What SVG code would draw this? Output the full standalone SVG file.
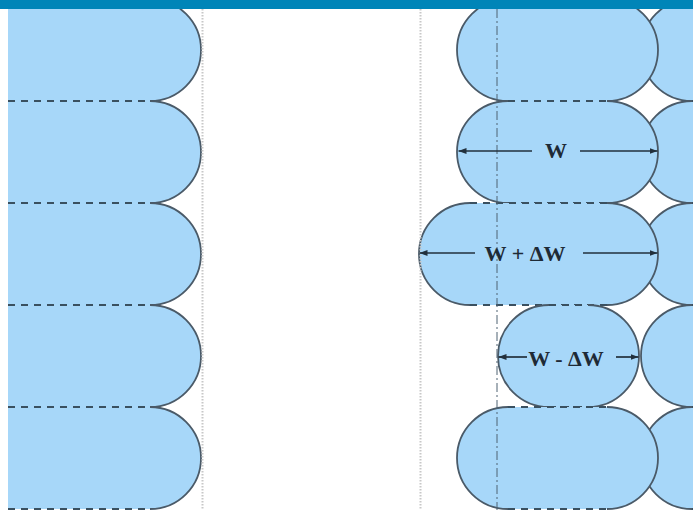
<svg xmlns="http://www.w3.org/2000/svg" width="693" height="510" viewBox="0 0 693 510">
<defs>
<style>
.fill{fill:#A7D7F9;stroke:none}
.cap{fill:none;stroke:#4A5A68;stroke-width:1.8}
.edge{fill:none;stroke:#3A5060;stroke-width:1.8;stroke-dasharray:7 6}
.guide{fill:none;stroke:#C8C8C8;stroke-width:2;stroke-dasharray:1.5 1.5}
.axis{fill:none;stroke:#4E6272;stroke-width:1;stroke-dasharray:9 3 2 3}
.dim{fill:none;stroke:#22303C;stroke-width:1.7;marker-end:url(#ah)}
.lbl{font-family:"Liberation Serif","Times New Roman",serif;font-size:22px;font-weight:bold;fill:#1E2A36;text-anchor:middle}
</style>
<marker id="ah" viewBox="0 0 8 6" refX="8" refY="3" markerWidth="8" markerHeight="6" markerUnits="userSpaceOnUse" orient="auto">
<path d="M0,0 L8,3 L0,6 Z" fill="#22303C"/>
</marker>
</defs>
<rect width="693" height="510" fill="#FFFFFF"/>

<!-- third column (partially visible, behind) -->
<g id="col3">
<g id="c3r1"><path class="fill" d="M692,-1 H900 V101 H692 A51,51 0 0 1 692,-1 Z"/><path class="cap" d="M692,101 A51,51 0 0 1 692,-1"/><path class="edge" d="M692,-1 H900 M692,101 H900"/></g>
<g id="c3r2"><path class="fill" d="M692,101 H900 V203 H692 A51,51 0 0 1 692,101 Z"/><path class="cap" d="M692,203 A51,51 0 0 1 692,101"/><path class="edge" d="M692,101 H900 M692,203 H900"/></g>
<g id="c3r3"><path class="fill" d="M692,203 H900 V305 H692 A51,51 0 0 1 692,203 Z"/><path class="cap" d="M692,305 A51,51 0 0 1 692,203"/><path class="edge" d="M692,203 H900 M692,305 H900"/></g>
<g id="c3r4"><path class="fill" d="M692,305 H900 V407 H692 A51,51 0 0 1 692,305 Z"/><path class="cap" d="M692,407 A51,51 0 0 1 692,305"/><path class="edge" d="M692,305 H900 M692,407 H900"/></g>
<g id="c3r5"><path class="fill" d="M692,407 H900 V509 H692 A51,51 0 0 1 692,407 Z"/><path class="cap" d="M692,509 A51,51 0 0 1 692,407"/><path class="edge" d="M692,407 H900 M692,509 H900"/></g>
</g>

<!-- right column -->
<g id="col2">
<g id="r1"><path class="fill" d="M508,-1 H607 A51,51 0 0 1 607,101 H508 A51,51 0 0 1 508,-1 Z"/><path class="cap" d="M607,-1 A51,51 0 0 1 607,101 M508,101 A51,51 0 0 1 508,-1"/><path class="edge" d="M508,-1 H607 M508,101 H607"/></g>
<g id="r2"><path class="fill" d="M508,101 H607 A51,51 0 0 1 607,203 H508 A51,51 0 0 1 508,101 Z"/><path class="cap" d="M607,101 A51,51 0 0 1 607,203 M508,203 A51,51 0 0 1 508,101"/><path class="edge" d="M508,101 H607 M508,203 H607"/></g>
<g id="r3"><path class="fill" d="M470,203 H607 A51,51 0 0 1 607,305 H470 A51,51 0 0 1 470,203 Z"/><path class="cap" d="M607,203 A51,51 0 0 1 607,305 M470,305 A51,51 0 0 1 470,203"/><path class="edge" d="M470,203 H607 M470,305 H607"/></g>
<g id="r4"><path class="fill" d="M549,305 H588 A51,51 0 0 1 588,407 H549 A51,51 0 0 1 549,305 Z"/><path class="cap" d="M588,305 A51,51 0 0 1 588,407 M549,407 A51,51 0 0 1 549,305"/><path class="edge" d="M549,305 H588 M549,407 H588"/></g>
<g id="r5"><path class="fill" d="M508,407 H607 A51,51 0 0 1 607,509 H508 A51,51 0 0 1 508,407 Z"/><path class="cap" d="M607,407 A51,51 0 0 1 607,509 M508,509 A51,51 0 0 1 508,407"/><path class="edge" d="M508,407 H607 M508,509 H607"/></g>
</g>

<!-- left column -->
<g id="col1">
<g id="l1"><path class="fill" d="M8,-1 H150 A51,51 0 0 1 150,101 H8 Z"/><path class="cap" d="M150,-1 A51,51 0 0 1 150,101"/><path class="edge" d="M8,-1 H150 M8,101 H150"/></g>
<g id="l2"><path class="fill" d="M8,101 H150 A51,51 0 0 1 150,203 H8 Z"/><path class="cap" d="M150,101 A51,51 0 0 1 150,203"/><path class="edge" d="M8,101 H150 M8,203 H150"/></g>
<g id="l3"><path class="fill" d="M8,203 H150 A51,51 0 0 1 150,305 H8 Z"/><path class="cap" d="M150,203 A51,51 0 0 1 150,305"/><path class="edge" d="M8,203 H150 M8,305 H150"/></g>
<g id="l4"><path class="fill" d="M8,305 H150 A51,51 0 0 1 150,407 H8 Z"/><path class="cap" d="M150,305 A51,51 0 0 1 150,407"/><path class="edge" d="M8,305 H150 M8,407 H150"/></g>
<g id="l5"><path class="fill" d="M8,407 H150 A51,51 0 0 1 150,509 H8 Z"/><path class="cap" d="M150,407 A51,51 0 0 1 150,509"/><path class="edge" d="M8,407 H150 M8,509 H150"/></g>
</g>

<!-- guide lines -->
<g id="guides">
<path class="guide" d="M202.5,9 V510"/>
<path class="guide" d="M420.5,9 V510"/>
<path class="axis" d="M497,9 V510"/>
</g>

<!-- dimension connectors -->
<g id="connectors">
<path class="dim" d="M532,151 H458.5"/>
<path class="dim" d="M580,151 H657.5"/>
<path class="dim" d="M475,253 H419.5"/>
<path class="dim" d="M583,253 H657.5"/>
<path class="dim" d="M527,357 H498.5"/>
<path class="dim" d="M616,357 H638.5"/>
</g>

<g id="labels">
<text class="lbl" x="556" y="158">W</text>
<text class="lbl" x="525" y="261">W + ΔW</text>
<text class="lbl" x="566" y="366">W - ΔW</text>
</g>

<rect id="topbar" x="0" y="0" width="693" height="9" fill="#0085B8"/>
</svg>
